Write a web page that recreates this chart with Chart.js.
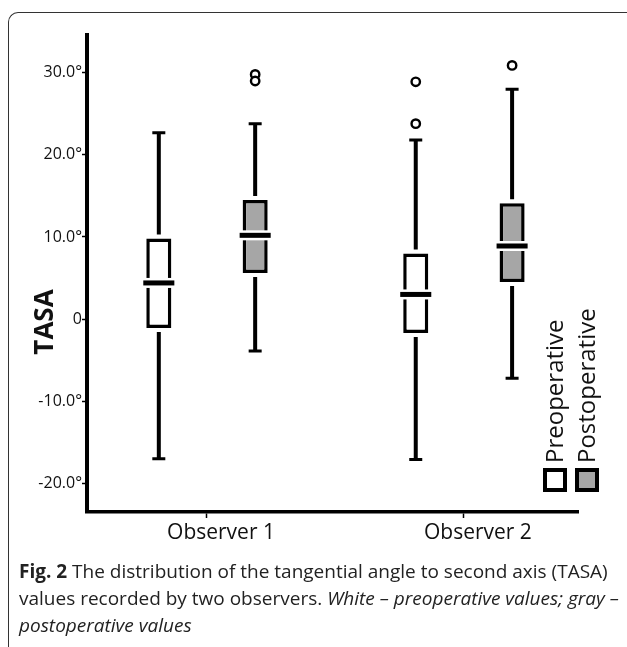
<!DOCTYPE html>
<html>
<head>
<meta charset="utf-8">
<script src="https://cdn.jsdelivr.net/npm/chart.js@4"></script>
<style>
  html, body { margin:0; padding:0; background:#fff; width:627px; height:647px; overflow:hidden; }
  #frame { position:absolute; left:8px; top:12px; width:640px; height:700px;
           border-top:1.5px solid #333; border-left:1.5px solid #333; border-top-left-radius:10px; }
  #wrap { position:absolute; left:0; top:0; width:627px; height:560px; }
  #caption { position:absolute; left:19px; top:558px; width:605px; font-family:"Open Sans", sans-serif;
             font-size:19px; line-height:27px; color:#222; white-space:nowrap; }
  #caption b { font-weight:700; }
</style>
</head>
<body>
<div id="frame"></div>
<div id="wrap"><canvas id="c" width="627" height="560"></canvas></div>
<div id="caption"><b>Fig. 2</b> The distribution of the tangential angle to second axis (TASA)<br>values recorded by two observers. <i>White – preoperative values; gray –</i><br><i>postoperative values</i></div>
<script>
// ---- data ----
const categories   = ['Observer 1', 'Observer 2'];
const seriesLabels = ['Preoperative', 'Postoperative'];
const tickValues   = [-20, -10, 0, 10, 20, 30];

const preMin      = [-17.0, -17.1];
const preQ1       = [-1.1, -1.7];
const preMedian   = [4.4, 3.0];
const preQ3       = [9.8, 8.0];
const preMax      = [22.7, 21.8];
const preOutliers = [[], [28.9, 23.8]];

const postMin      = [-3.9, -7.2];
const postQ1       = [5.6, 4.5];
const postMedian   = [10.2, 8.9];
const postQ3       = [14.5, 14.1];
const postMax      = [23.8, 28.0];
const postOutliers = [[29.8, 29.0], [30.9]];

const stats = [
  { min: preMin, q1: preQ1, med: preMedian, q3: preQ3, max: preMax, out: preOutliers },
  { min: postMin, q1: postQ1, med: postMedian, q3: postQ3, max: postMax, out: postOutliers }
];
const fills = ['#ffffff', '#a6a6a6'];

const boxPlugin = {
  id: 'boxWhiskers',
  afterDatasetsDraw(chart) {
    const ctx = chart.ctx, ys = chart.scales.y;
    chart.data.datasets.forEach((ds, d) => {
      const meta = chart.getDatasetMeta(d);
      const s = stats[d];
      meta.data.forEach((bar, i) => {
        const x = bar.x, w = bar.width;
        const yMin = ys.getPixelForValue(s.min[i]);
        const yQ1 = ys.getPixelForValue(s.q1[i]);
        const yMed = ys.getPixelForValue(s.med[i]);
        const yQ3 = ys.getPixelForValue(s.q3[i]);
        const yMax = ys.getPixelForValue(s.max[i]);
        ctx.save();
        ctx.strokeStyle = '#000';
        ctx.lineCap = 'butt';
        ctx.lineWidth = 4;
        ctx.beginPath();
        ctx.moveTo(x, yMax); ctx.lineTo(x, yQ3 - 4);
        ctx.moveTo(x, yQ1 + 4); ctx.lineTo(x, yMin);
        ctx.stroke();
        ctx.lineWidth = 3;
        ctx.beginPath();
        ctx.moveTo(x - 6.5, yMax); ctx.lineTo(x + 6.5, yMax);
        ctx.moveTo(x - 6.5, yMin); ctx.lineTo(x + 6.5, yMin);
        ctx.stroke();
        ctx.fillStyle = '#fff';
        ctx.fillRect(x - w / 2 - 1, yMed - 5, w + 2, 10);
        ctx.fillStyle = '#000';
        ctx.fillRect(x - w / 2 - 3, yMed - 2.5, w + 6, 5);
        ctx.lineWidth = 2.4;
        s.out[i].forEach(v => {
          const yo = ys.getPixelForValue(v);
          ctx.beginPath();
          ctx.arc(x, yo, 4.2, 0, Math.PI * 2);
          ctx.fillStyle = '#fff';
          ctx.fill();
          ctx.stroke();
        });
        ctx.restore();
      });
    });
  },
  afterDraw(chart) {
    const ctx = chart.ctx, a = chart.chartArea;
    ctx.save();
    ctx.font = 'bold 26px "Open Sans", sans-serif';
    ctx.fillStyle = '#111';
    ctx.textAlign = 'center';
    ctx.textBaseline = 'middle';
    ctx.translate(46, 322);
    ctx.rotate(-Math.PI / 2);
    ctx.fillText('TASA', 0, 0);
    ctx.restore();
    chart.data.datasets.forEach((ds, d) => {
      const cx = a.right - 23 + d * 32;
      ctx.save();
      ctx.fillStyle = fills[d];
      ctx.fillRect(cx - 12, 468, 24, 24);
      ctx.strokeStyle = '#000';
      ctx.lineWidth = 4;
      ctx.strokeRect(cx - 10, 470, 20, 20);
      ctx.translate(cx, 463);
      ctx.rotate(-Math.PI / 2);
      ctx.font = '24px "Open Sans", sans-serif';
      ctx.fillStyle = '#111';
      ctx.textAlign = 'left';
      ctx.textBaseline = 'middle';
      ctx.fillText(ds.label, 0, 1);
      ctx.restore();
    });
  }
};

new Chart(document.getElementById('c'), {
  type: 'bar',
  data: {
    datasets: seriesLabels.map((lab, d) => ({
      label: lab,
      data: categories.map((c, i) => ({ x: i + 1, y: [stats[d].q1[i], stats[d].q3[i]] })),
      backgroundColor: fills[d],
      borderColor: '#000',
      borderWidth: 3.5,
      borderSkipped: false,
      categoryPercentage: 0.75,
      barPercentage: 0.26
    }))
  },
  options: {
    responsive: false,
    animation: false,
    layout: { padding: { top: 35, right: 49, left: 0, bottom: 0 } },
    plugins: { legend: { display: false }, tooltip: { enabled: false } },
    scales: {
      x: {
        type: 'linear',
        offset: false,
        min: 0.533, max: 2.444,
        afterBuildTicks: s => { s.ticks = categories.map((c, i) => ({ value: i + 1 })); },
        afterFit: s => { s.height = 48; },
        grid: { offset: false, drawOnChartArea: false, drawTicks: true, tickLength: 6, tickWidth: 1.5, tickColor: '#000' },
        border: { display: true, color: '#000', width: 3.5 },
        ticks: {
          callback: v => categories[v - 1] || '',
          font: { family: 'Open Sans', size: 21 },
          color: '#111',
          padding: 2,
          labelOffset: 14,
          maxRotation: 0
        }
      },
      y: {
        min: -23.5, max: 34.6,
        afterBuildTicks: s => { s.ticks = tickValues.map(v => ({ value: v })); },
        afterFit: s => { s.width = 87; },
        grid: { drawOnChartArea: false, drawTicks: true, tickLength: 5, tickWidth: 1.5, tickColor: '#000' },
        border: { display: true, color: '#000', width: 4 },
        ticks: {
          callback: v => v === 0 ? '0' : v.toFixed(1) + '°',
          font: { family: 'Open Sans', size: 16 },
          color: '#111',
          padding: 0
        }
      }
    }
  },
  plugins: [boxPlugin]
});
</script>
</body>
</html>
